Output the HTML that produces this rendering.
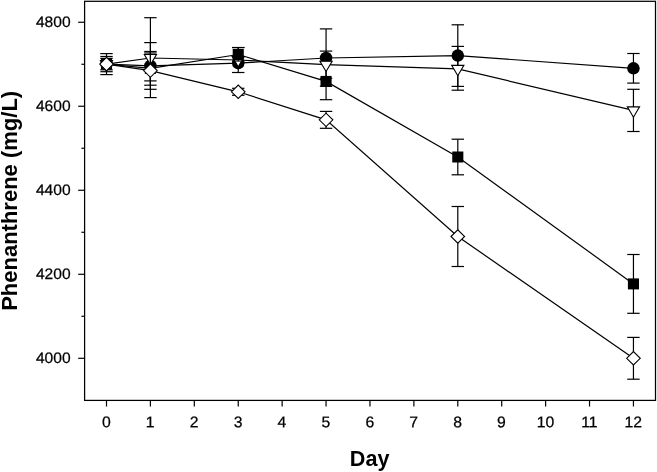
<!DOCTYPE html>
<html><head><meta charset="utf-8"><title>Phenanthrene</title>
<style>
html,body{margin:0;padding:0;background:#fff;}
body{width:657px;height:472px;overflow:hidden;}
svg{display:block;will-change:transform;filter:grayscale(1);}
.tk{font-family:"Liberation Sans",sans-serif;font-size:15.25px;fill:#000;stroke:#000;stroke-width:0.25px;}
.ax{font-family:"Liberation Sans",sans-serif;font-size:21px;font-weight:bold;fill:#000;}
</style></head><body>
<svg width="657" height="472" viewBox="0 0 657 472">
<rect x="0" y="0" width="657" height="472" fill="#fff"/>
<g stroke="#000" fill="none">
<rect x="84.6" y="1.3" width="570.9" height="399.1" fill="none" stroke-width="1.25"/>
<line x1="106.5" y1="400.4" x2="106.5" y2="406.5" stroke-width="1.2"/>
<line x1="150.41" y1="400.4" x2="150.41" y2="406.5" stroke-width="1.2"/>
<line x1="194.32" y1="400.4" x2="194.32" y2="406.5" stroke-width="1.2"/>
<line x1="238.24" y1="400.4" x2="238.24" y2="406.5" stroke-width="1.2"/>
<line x1="282.15" y1="400.4" x2="282.15" y2="406.5" stroke-width="1.2"/>
<line x1="326.06" y1="400.4" x2="326.06" y2="406.5" stroke-width="1.2"/>
<line x1="369.97" y1="400.4" x2="369.97" y2="406.5" stroke-width="1.2"/>
<line x1="413.88" y1="400.4" x2="413.88" y2="406.5" stroke-width="1.2"/>
<line x1="457.8" y1="400.4" x2="457.8" y2="406.5" stroke-width="1.2"/>
<line x1="501.71" y1="400.4" x2="501.71" y2="406.5" stroke-width="1.2"/>
<line x1="545.62" y1="400.4" x2="545.62" y2="406.5" stroke-width="1.2"/>
<line x1="589.53" y1="400.4" x2="589.53" y2="406.5" stroke-width="1.2"/>
<line x1="633.44" y1="400.4" x2="633.44" y2="406.5" stroke-width="1.2"/>
<line x1="78.2" y1="358.3" x2="84.6" y2="358.3" stroke-width="1.2"/>
<line x1="78.2" y1="274.29" x2="84.6" y2="274.29" stroke-width="1.2"/>
<line x1="78.2" y1="190.27" x2="84.6" y2="190.27" stroke-width="1.2"/>
<line x1="78.2" y1="106.26" x2="84.6" y2="106.26" stroke-width="1.2"/>
<line x1="78.2" y1="22.25" x2="84.6" y2="22.25" stroke-width="1.2"/>
<line x1="81.4" y1="316.29" x2="84.6" y2="316.29" stroke-width="1.2"/>
<line x1="81.4" y1="232.28" x2="84.6" y2="232.28" stroke-width="1.2"/>
<line x1="81.4" y1="148.27" x2="84.6" y2="148.27" stroke-width="1.2"/>
<line x1="81.4" y1="64.26" x2="84.6" y2="64.26" stroke-width="1.2"/>
<polyline points="106.5,64.1 150.41,65.95 238.24,63.2 326.06,58 457.8,55.6 633.44,68.3" fill="none" stroke-width="1.2"/>
<line x1="106.5" y1="53.6" x2="106.5" y2="74.6" stroke-width="1.2"/>
<line x1="100.3" y1="53.6" x2="112.7" y2="53.6" stroke-width="1.2"/>
<line x1="100.3" y1="74.6" x2="112.7" y2="74.6" stroke-width="1.2"/>
<line x1="150.41" y1="42.6" x2="150.41" y2="89.3" stroke-width="1.2"/>
<line x1="144.21" y1="42.6" x2="156.61" y2="42.6" stroke-width="1.2"/>
<line x1="144.21" y1="89.3" x2="156.61" y2="89.3" stroke-width="1.2"/>
<line x1="326.06" y1="28.9" x2="326.06" y2="86.2" stroke-width="1.2"/>
<line x1="319.86" y1="28.9" x2="332.26" y2="28.9" stroke-width="1.2"/>
<line x1="319.86" y1="86.2" x2="332.26" y2="86.2" stroke-width="1.2"/>
<line x1="457.8" y1="24.8" x2="457.8" y2="86.4" stroke-width="1.2"/>
<line x1="451.6" y1="24.8" x2="464" y2="24.8" stroke-width="1.2"/>
<line x1="451.6" y1="86.4" x2="464" y2="86.4" stroke-width="1.2"/>
<line x1="633.44" y1="53.5" x2="633.44" y2="83.1" stroke-width="1.2"/>
<line x1="627.24" y1="53.5" x2="639.64" y2="53.5" stroke-width="1.2"/>
<line x1="627.24" y1="83.1" x2="639.64" y2="83.1" stroke-width="1.2"/>
<circle cx="106.5" cy="64.1" r="6.25" fill="#000" stroke="none"/>
<circle cx="150.41" cy="65.95" r="6.25" fill="#000" stroke="none"/>
<circle cx="238.24" cy="63.2" r="6.25" fill="#000" stroke="none"/>
<circle cx="326.06" cy="58" r="6.25" fill="#000" stroke="none"/>
<circle cx="457.8" cy="55.6" r="6.25" fill="#000" stroke="none"/>
<circle cx="633.44" cy="68.3" r="6.25" fill="#000" stroke="none"/>
<polyline points="106.5,64.1 150.41,58 238.24,60 326.06,64.7 457.8,68.9 633.44,110.4" fill="none" stroke-width="1.2"/>
<line x1="106.5" y1="56.5" x2="106.5" y2="71.7" stroke-width="1.2"/>
<line x1="100.3" y1="56.5" x2="112.7" y2="56.5" stroke-width="1.2"/>
<line x1="100.3" y1="71.7" x2="112.7" y2="71.7" stroke-width="1.2"/>
<line x1="150.41" y1="17.7" x2="150.41" y2="97.6" stroke-width="1.2"/>
<line x1="144.21" y1="17.7" x2="156.61" y2="17.7" stroke-width="1.2"/>
<line x1="144.21" y1="97.6" x2="156.61" y2="97.6" stroke-width="1.2"/>
<line x1="238.24" y1="47.5" x2="238.24" y2="72.5" stroke-width="1.2"/>
<line x1="232.04" y1="47.5" x2="244.44" y2="47.5" stroke-width="1.2"/>
<line x1="232.04" y1="72.5" x2="244.44" y2="72.5" stroke-width="1.2"/>
<line x1="326.06" y1="51.1" x2="326.06" y2="78.3" stroke-width="1.2"/>
<line x1="319.86" y1="51.1" x2="332.26" y2="51.1" stroke-width="1.2"/>
<line x1="319.86" y1="78.3" x2="332.26" y2="78.3" stroke-width="1.2"/>
<line x1="457.8" y1="46.4" x2="457.8" y2="90.2" stroke-width="1.2"/>
<line x1="451.6" y1="46.4" x2="464" y2="46.4" stroke-width="1.2"/>
<line x1="451.6" y1="90.2" x2="464" y2="90.2" stroke-width="1.2"/>
<line x1="633.44" y1="89.3" x2="633.44" y2="131.5" stroke-width="1.2"/>
<line x1="627.24" y1="89.3" x2="639.64" y2="89.3" stroke-width="1.2"/>
<line x1="627.24" y1="131.5" x2="639.64" y2="131.5" stroke-width="1.2"/>
<polygon points="100.4,60.6 112.6,60.6 106.5,70.9" fill="#fff" stroke-width="1.1"/>
<polygon points="144.31,54.5 156.51,54.5 150.41,64.8" fill="#fff" stroke-width="1.1"/>
<polygon points="232.14,56.5 244.34,56.5 238.24,66.8" fill="#fff" stroke-width="1.1"/>
<polygon points="319.96,61.2 332.16,61.2 326.06,71.5" fill="#fff" stroke-width="1.1"/>
<polygon points="451.7,65.4 463.9,65.4 457.8,75.7" fill="#fff" stroke-width="1.1"/>
<polygon points="627.34,106.9 639.54,106.9 633.44,117.2" fill="#fff" stroke-width="1.1"/>
<polyline points="106.5,64.1 150.41,68.35 238.24,54.5 326.06,81.4 457.8,157 633.44,283.9" fill="none" stroke-width="1.2"/>
<line x1="106.5" y1="58.4" x2="106.5" y2="69.8" stroke-width="1.2"/>
<line x1="100.3" y1="58.4" x2="112.7" y2="58.4" stroke-width="1.2"/>
<line x1="100.3" y1="69.8" x2="112.7" y2="69.8" stroke-width="1.2"/>
<line x1="150.41" y1="51.5" x2="150.41" y2="85.2" stroke-width="1.2"/>
<line x1="144.21" y1="51.5" x2="156.61" y2="51.5" stroke-width="1.2"/>
<line x1="144.21" y1="85.2" x2="156.61" y2="85.2" stroke-width="1.2"/>
<line x1="238.24" y1="47.6" x2="238.24" y2="61" stroke-width="1.2"/>
<line x1="232.04" y1="47.6" x2="244.44" y2="47.6" stroke-width="1.2"/>
<line x1="232.04" y1="61" x2="244.44" y2="61" stroke-width="1.2"/>
<line x1="326.06" y1="81.4" x2="326.06" y2="99.7" stroke-width="1.2"/>
<line x1="319.86" y1="99.7" x2="332.26" y2="99.7" stroke-width="1.2"/>
<line x1="457.8" y1="139.2" x2="457.8" y2="174.8" stroke-width="1.2"/>
<line x1="451.6" y1="139.2" x2="464" y2="139.2" stroke-width="1.2"/>
<line x1="451.6" y1="174.8" x2="464" y2="174.8" stroke-width="1.2"/>
<line x1="633.44" y1="254.5" x2="633.44" y2="313.3" stroke-width="1.2"/>
<line x1="627.24" y1="254.5" x2="639.64" y2="254.5" stroke-width="1.2"/>
<line x1="627.24" y1="313.3" x2="639.64" y2="313.3" stroke-width="1.2"/>
<rect x="100.95" y="58.6" width="11.1" height="11" fill="#000" stroke="none"/>
<rect x="144.86" y="62.85" width="11.1" height="11" fill="#000" stroke="none"/>
<rect x="232.69" y="49" width="11.1" height="11" fill="#000" stroke="none"/>
<rect x="320.51" y="75.9" width="11.1" height="11" fill="#000" stroke="none"/>
<rect x="452.25" y="151.5" width="11.1" height="11" fill="#000" stroke="none"/>
<rect x="627.89" y="278.4" width="11.1" height="11" fill="#000" stroke="none"/>
<polyline points="106.5,64.1 150.41,70.6 238.24,91.8 326.06,119.85 457.8,236.5 633.44,358.3" fill="none" stroke-width="1.2"/>
<line x1="150.41" y1="53" x2="150.41" y2="80.9" stroke-width="1.2"/>
<line x1="144.21" y1="53" x2="156.61" y2="53" stroke-width="1.2"/>
<line x1="144.21" y1="80.9" x2="156.61" y2="80.9" stroke-width="1.2"/>
<line x1="238.24" y1="88.3" x2="238.24" y2="95.3" stroke-width="1.2"/>
<line x1="232.04" y1="88.3" x2="244.44" y2="88.3" stroke-width="1.2"/>
<line x1="232.04" y1="95.3" x2="244.44" y2="95.3" stroke-width="1.2"/>
<line x1="326.06" y1="111.4" x2="326.06" y2="128.3" stroke-width="1.2"/>
<line x1="319.86" y1="111.4" x2="332.26" y2="111.4" stroke-width="1.2"/>
<line x1="319.86" y1="128.3" x2="332.26" y2="128.3" stroke-width="1.2"/>
<line x1="457.8" y1="206.5" x2="457.8" y2="266.5" stroke-width="1.2"/>
<line x1="451.6" y1="206.5" x2="464" y2="206.5" stroke-width="1.2"/>
<line x1="451.6" y1="266.5" x2="464" y2="266.5" stroke-width="1.2"/>
<line x1="633.44" y1="337.4" x2="633.44" y2="379.2" stroke-width="1.2"/>
<line x1="627.24" y1="337.4" x2="639.64" y2="337.4" stroke-width="1.2"/>
<line x1="627.24" y1="379.2" x2="639.64" y2="379.2" stroke-width="1.2"/>
<polygon points="99.7,64.1 106.5,57.4 113.3,64.1 106.5,70.8" fill="#fff" stroke-width="1.1"/>
<polygon points="143.61,70.6 150.41,63.9 157.21,70.6 150.41,77.3" fill="#fff" stroke-width="1.1"/>
<polygon points="231.44,91.8 238.24,85.1 245.04,91.8 238.24,98.5" fill="#fff" stroke-width="1.1"/>
<polygon points="319.26,119.85 326.06,113.15 332.86,119.85 326.06,126.55" fill="#fff" stroke-width="1.1"/>
<polygon points="451,236.5 457.8,229.8 464.6,236.5 457.8,243.2" fill="#fff" stroke-width="1.1"/>
<polygon points="626.64,358.3 633.44,351.6 640.24,358.3 633.44,365" fill="#fff" stroke-width="1.1"/>
</g>
<g stroke="none">
<text transform="translate(106.3,427.25) rotate(0.03) scale(1.02,1)" text-anchor="middle" class="tk" style="font-size:15.45px">0</text>
<text transform="translate(150.21,427.25) rotate(0.03) scale(1.02,1)" text-anchor="middle" class="tk" style="font-size:15.45px">1</text>
<text transform="translate(194.12,427.25) rotate(0.03) scale(1.02,1)" text-anchor="middle" class="tk" style="font-size:15.45px">2</text>
<text transform="translate(238.04,427.25) rotate(0.03) scale(1.02,1)" text-anchor="middle" class="tk" style="font-size:15.45px">3</text>
<text transform="translate(281.95,427.25) rotate(0.03) scale(1.02,1)" text-anchor="middle" class="tk" style="font-size:15.45px">4</text>
<text transform="translate(325.86,427.25) rotate(0.03) scale(1.02,1)" text-anchor="middle" class="tk" style="font-size:15.45px">5</text>
<text transform="translate(369.77,427.25) rotate(0.03) scale(1.02,1)" text-anchor="middle" class="tk" style="font-size:15.45px">6</text>
<text transform="translate(413.68,427.25) rotate(0.03) scale(1.02,1)" text-anchor="middle" class="tk" style="font-size:15.45px">7</text>
<text transform="translate(457.6,427.25) rotate(0.03) scale(1.02,1)" text-anchor="middle" class="tk" style="font-size:15.45px">8</text>
<text transform="translate(501.51,427.25) rotate(0.03) scale(1.02,1)" text-anchor="middle" class="tk" style="font-size:15.45px">9</text>
<text transform="translate(545.42,427.25) rotate(0.03) scale(1.02,1)" text-anchor="middle" class="tk" style="font-size:15.45px">10</text>
<text transform="translate(589.33,427.25) rotate(0.03) scale(1.02,1)" text-anchor="middle" class="tk" style="font-size:15.45px">11</text>
<text transform="translate(633.24,427.25) rotate(0.03) scale(1.02,1)" text-anchor="middle" class="tk" style="font-size:15.45px">12</text>
<text transform="translate(70.6,363.1) rotate(0.03) scale(1.025,1)" text-anchor="end" class="tk" style="font-size:15.2px">4000</text>
<text transform="translate(70.6,279.09) rotate(0.03) scale(1.025,1)" text-anchor="end" class="tk" style="font-size:15.2px">4200</text>
<text transform="translate(70.6,195.07) rotate(0.03) scale(1.025,1)" text-anchor="end" class="tk" style="font-size:15.2px">4400</text>
<text transform="translate(70.6,111.06) rotate(0.03) scale(1.025,1)" text-anchor="end" class="tk" style="font-size:15.2px">4600</text>
<text transform="translate(70.6,27.05) rotate(0.03) scale(1.025,1)" text-anchor="end" class="tk" style="font-size:15.2px">4800</text>
<text x="369.6" y="465.9" text-anchor="middle" class="ax" style="font-size:21.6px">Day</text>
<text transform="translate(17.2,200.85) rotate(-90)" text-anchor="middle" class="ax" style="font-size:22px">Phenanthrene (mg/L)</text>
</g>
</svg>
</body></html>
